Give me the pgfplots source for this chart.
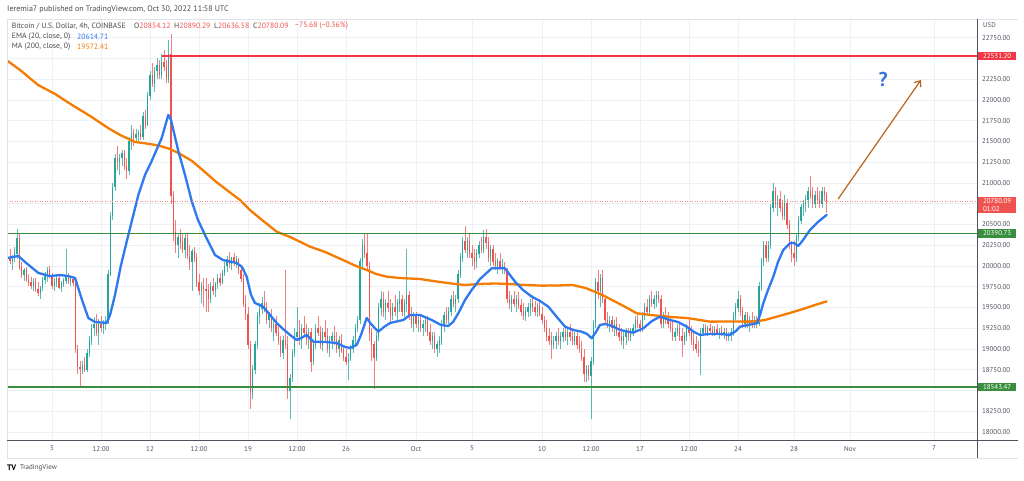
\documentclass[border=0pt]{standalone}
\usepackage{fontspec}
\setmainfont{PT Sans}
\usepackage{pgfplots}
\usepackage{pgfplotstable}
\pgfplotsset{compat=1.18}
\usetikzlibrary{arrows.meta}
\definecolor{upc}{HTML}{26A69A}
\definecolor{dnc}{HTML}{EF5350}
\definecolor{emac}{HTML}{2E78F0}
\definecolor{mac}{HTML}{F57C00}
\definecolor{redl}{HTML}{F23645}
\definecolor{greenl}{HTML}{388E3C}
\definecolor{gridc}{HTML}{EDF0F5}
\definecolor{tickc}{HTML}{50535E}
\definecolor{framec}{HTML}{E0E3EB}
\definecolor{darkl}{HTML}{50535E}
\definecolor{arrowc}{HTML}{B8651B}
\definecolor{qc}{HTML}{3A78D2}
\definecolor{hdr}{HTML}{4A4A4A}
\newcommand{\fsz}[2]{\fontsize{#1}{#2}\selectfont}

\pgfplotstableread{
i o h l c
0 20000 20180 19900 20100
1 20100 20200 20020 20060
2 20060 20130 19950 20120
3 20120 20230 20050 20150
4 20150 20440 20080 20330
5 20330 20380 19950 19980
6 19980 20050 19850 19900
7 19900 19980 19820 19950
8 19950 19990 19800 19830
9 19830 19900 19760 19800
10 19800 19870 19720 19760
11 19760 19850 19700 19820
12 19820 19860 19690 19720
13 19720 19800 19640 19680
14 19680 19760 19600 19740
15 19740 19870 19700 19840
16 19840 19930 19780 19880
17 19880 19990 19800 19950
18 19950 20000 19850 19880
19 19880 19920 19720 19760
20 19760 19850 19700 19800
21 19800 19880 19740 19850
22 19850 19900 19720 19740
23 19740 19820 19690 19790
24 19790 19860 19740 19820
25 19820 20200 19780 19860
26 19860 19920 19780 19820
27 19820 19880 19760 19840
28 19840 19870 19760 19800
29 19800 19830 18950 19000
30 19000 19050 18700 18780
31 18780 18850 18540 18760
32 18760 18850 18700 18800
33 18800 18900 18720 18750
34 18750 19000 18720 18950
35 18950 19150 18900 19100
36 19100 19300 19050 19250
37 19250 19380 19150 19300
38 19300 19420 19150 19200
39 19200 19360 19050 19300
40 19300 19400 19200 19250
41 19250 19350 19180 19320
42 19320 19400 19230 19330
43 19330 19950 19300 19900
44 19900 20650 19880 20600
45 20600 21000 20550 20950
46 20950 21350 20900 21300
47 21300 21450 21150 21250
48 21250 21350 21100 21300
49 21300 21400 21200 21360
50 21360 21400 21150 21200
51 21200 21300 21050 21150
52 21150 21550 21100 21500
53 21500 21700 21400 21600
54 21600 21650 21450 21550
55 21550 21650 21500 21580
56 21580 21640 21500 21600
57 21600 21700 21520 21560
58 21560 21850 21520 21800
59 21800 21880 21650 21700
60 21700 22100 21680 22050
61 22050 22350 22000 22300
62 22300 22450 22150 22200
63 22200 22400 22100 22350
64 22350 22500 22250 22420
65 22420 22480 22250 22300
66 22300 22550 22250 22450
67 22450 22600 22350 22400
68 22400 22480 22200 22250
69 22250 22720 22200 22550
70 22550 22800 20750 20850
71 20850 20900 20300 20400
72 20400 20550 20150 20250
73 20250 20400 20100 20350
74 20350 20450 20200 20280
75 20280 20400 20150 20200
76 20200 20380 20100 20330
77 20330 20400 20080 20120
78 20120 20250 19950 20050
79 20050 20200 19700 20180
80 20180 20230 20050 20100
81 20100 20150 19750 19800
82 19800 19900 19650 19700
83 19700 19800 19550 19750
84 19750 19850 19500 19720
85 19720 19850 19450 19700
86 19700 19780 19450 19600
87 19600 19800 19550 19750
88 19750 19850 19650 19700
89 19700 19800 19620 19780
90 19780 19900 19720 19850
91 19850 19920 19760 19800
92 19800 19950 19780 19920
93 19920 20050 19880 20000
94 20000 20120 19930 20080
95 20080 20170 19980 20030
96 20030 20110 19950 20100
97 20100 20160 20000 20050
98 20050 20120 19970 20080
99 20080 20100 19900 19950
100 19950 20000 19800 19850
101 19850 19900 19500 19550
102 19550 19650 19350 19420
103 19420 19500 19000 19050
104 19050 19100 18270 18480
105 18480 18800 18400 18750
106 18750 19100 18700 19050
107 19050 19450 19000 19400
108 19400 19550 19300 19480
109 19480 19620 19420 19550
110 19550 19700 19450 19500
111 19500 19560 19300 19350
112 19350 19450 19250 19400
113 19400 19480 19200 19250
114 19250 19350 19100 19300
115 19300 19400 19150 19200
116 19200 19300 19050 19100
117 19100 19150 18900 18950
118 18950 19150 18880 19100
119 19100 19950 19000 19050
120 19050 19150 18400 18500
121 18500 18700 18160 18650
122 18650 19000 18600 18950
123 18950 19250 18900 19150
124 19150 19500 19100 19200
125 19200 19350 19050 19100
126 19100 19300 19000 19250
127 19250 19400 19150 19200
128 19200 19300 19050 19120
129 19120 19250 19000 19200
130 19200 19250 18720 18850
131 18850 19100 18800 19050
132 19050 19300 19000 19250
133 19250 19400 19150 19200
134 19200 19280 19000 19050
135 19050 19250 18980 19200
136 19200 19350 19100 19150
137 19150 19250 18950 19000
138 19000 19150 18900 19100
139 19100 19200 19000 19150
140 19150 19280 19050 19100
141 19100 19200 18950 19000
142 19000 19150 18900 19100
143 19100 19180 18950 18980
144 18980 19050 18850 18900
145 18900 19000 18800 18850
146 18850 18950 18620 18880
147 18880 19050 18850 19000
148 19000 19150 18950 19100
149 19100 19300 19050 19250
150 19250 19400 19200 19350
151 19350 20100 19300 20050
152 20050 20330 19950 20250
153 20250 20380 20100 20150
154 20150 20380 19950 20000
155 20000 20050 19100 19200
156 19200 19250 18850 19050
157 19050 19100 18520 18900
158 18900 19200 18850 19150
159 19150 19550 19100 19500
160 19500 19700 19400 19600
161 19600 19680 19380 19450
162 19450 19600 19350 19550
163 19550 19700 19450 19500
164 19500 19600 19300 19400
165 19400 19550 19350 19500
166 19500 19650 19400 19450
167 19450 19600 19350 19550
168 19550 19700 19450 19600
169 19600 19650 19400 19450
170 19450 19600 19380 19550
171 19550 20200 19450 19650
172 19650 19700 19350 19400
173 19400 19500 19250 19300
174 19300 19450 19200 19400
175 19400 19450 19250 19300
176 19300 19400 19200 19350
177 19350 19420 19200 19250
178 19250 19350 19150 19300
179 19300 19400 19200 19350
180 19350 19400 19150 19200
181 19200 19300 19050 19100
182 19100 19200 19000 19150
183 19150 19200 18950 19000
184 19000 19100 18900 19050
185 19050 19150 18950 19100
186 19100 19350 19050 19300
187 19300 19450 19200 19400
188 19400 19500 19300 19350
189 19350 19500 19300 19450
190 19450 19650 19400 19600
191 19600 19700 19500 19550
192 19550 19650 19450 19600
193 19600 19950 19550 19900
194 19900 20150 19850 20100
195 20100 20350 20050 20300
196 20300 20480 20150 20200
197 20200 20350 20100 20300
198 20300 20400 20100 20150
199 20150 20250 20000 20100
200 20100 20200 19950 20050
201 20050 20200 19980 20150
202 20150 20300 20100 20250
203 20250 20350 20150 20200
204 20200 20430 20150 20350
205 20350 20450 20200 20280
206 20280 20350 20050 20100
207 20100 20250 20000 20200
208 20200 20250 20000 20050
209 20050 20150 19950 20000
210 20000 20100 19900 20050
211 20050 20150 19950 19980
212 19980 20080 19900 20000
213 20000 20050 19900 19950
214 19950 19980 19550 19600
215 19600 19700 19480 19550
216 19550 19650 19450 19600
217 19600 19700 19500 19550
218 19550 19650 19450 19600
219 19600 19680 19480 19520
220 19520 19600 19400 19450
221 19450 19550 19350 19400
222 19400 19500 19330 19450
223 19450 19550 19380 19500
224 19500 19600 19400 19550
225 19550 19650 19450 19500
226 19500 19580 19400 19450
227 19450 19550 19380 19520
228 19520 19600 19400 19420
229 19420 19500 19300 19350
230 19350 19400 19200 19250
231 19250 19350 19100 19150
232 19150 19250 19050 19100
233 19100 19200 18880 19050
234 19050 19150 19000 19100
235 19100 19200 19000 19150
236 19150 19250 19050 19100
237 19100 19200 19000 19150
238 19150 19250 19080 19200
239 19200 19280 19100 19150
240 19150 19250 19050 19200
241 19200 19300 19100 19150
242 19150 19250 19050 19100
243 19100 19200 19050 19150
244 19150 19220 19000 19050
245 19050 19150 18950 19000
246 19000 19100 18850 18900
247 18900 19000 18600 18700
248 18700 18800 18600 18750
249 18750 18800 18620 18680
250 18680 18900 18150 18850
251 18850 19350 18800 19300
252 19300 19850 19250 19800
253 19800 19950 19600 19700
254 19700 19900 19500 19850
255 19850 19950 19550 19600
256 19600 19650 19300 19350
257 19350 19450 19250 19300
258 19300 19400 19200 19350
259 19350 19400 19200 19250
260 19250 19350 19150 19300
261 19300 19380 19150 19200
262 19200 19300 19100 19150
263 19150 19250 19050 19100
264 19100 19200 19000 19150
265 19150 19250 19050 19200
266 19200 19250 19100 19150
267 19150 19250 19100 19200
268 19200 19300 19150 19250
269 19250 19400 19200 19350
270 19350 19450 19250 19300
271 19300 19350 19200 19250
272 19250 19450 19200 19400
273 19400 19550 19350 19500
274 19500 19600 19400 19450
275 19450 19650 19400 19600
276 19600 19700 19500 19550
277 19550 19650 19480 19600
278 19600 19700 19500 19650
279 19650 19700 19550 19600
280 19600 19650 19250 19300
281 19300 19450 19250 19400
282 19400 19500 19300 19350
283 19350 19450 19250 19300
284 19300 19400 19200 19250
285 19250 19350 19100 19150
286 19150 19250 19100 19200
287 19200 19300 19150 19250
288 19250 19300 19100 19150
289 19150 19250 18900 19100
290 19100 19200 19050 19150
291 19150 19300 19100 19250
292 19250 19350 19150 19200
293 19200 19280 19050 19100
294 19100 19200 18980 19050
295 19050 19150 18950 19000
296 19000 19100 18900 18950
297 18950 19250 18680 19200
298 19200 19300 19150 19250
299 19250 19300 19180 19200
300 19200 19280 19150 19250
301 19250 19300 19180 19220
302 19220 19280 19150 19200
303 19200 19270 19150 19230
304 19230 19300 19170 19190
305 19190 19250 19120 19210
306 19210 19280 19150 19180
307 19180 19250 19120 19200
308 19200 19250 19100 19150
309 19150 19200 19100 19170
310 19170 19250 19100 19200
311 19200 19450 19150 19400
312 19400 19550 19350 19500
313 19500 19700 19450 19600
314 19600 19650 19400 19450
315 19450 19500 19250 19300
316 19300 19450 19250 19400
317 19400 19450 19250 19300
318 19300 19400 19200 19350
319 19350 19450 19250 19300
320 19300 19400 19250 19350
321 19350 19400 19250 19300
322 19300 19800 19280 19750
323 19750 20100 19700 20050
324 20050 20300 20000 20250
325 20250 20300 20050 20100
326 20100 20300 20050 20250
327 20250 20750 20200 20700
328 20700 21000 20650 20900
329 20900 20950 20700 20750
330 20750 20850 20600 20800
331 20800 20900 20650 20700
332 20700 20800 20550 20600
333 20600 20850 20550 20750
334 20750 20800 20450 20500
335 20500 20550 20200 20250
336 20250 20300 20050 20150
337 20150 20300 20000 20100
338 20100 20400 20050 20350
339 20350 20600 20300 20550
340 20550 20750 20500 20700
341 20700 20800 20600 20750
342 20750 20850 20650 20800
343 20800 20950 20700 20900
344 20900 21080 20800 20850
345 20850 20950 20700 20750
346 20750 20900 20700 20850
347 20850 20950 20750 20800
348 20800 20900 20700 20750
349 20750 20950 20700 20900
350 20900 20950 20780 20854.12
351 20854.12 20890.29 20636.58 20780.09
}\candles

\pgfplotstableread{
i v
0 20095
4.56 20120
7.43 20047
13.13 19915
18.14 19877
22.43 19890
25.98 19877
28.86 19855
31.86 19590
34.56 19372
37.43 19324
42.44 19312
43.86 19408
46.0 19650
48.57 20010
51.7 20372
55.99 20854
58.86 21096
61.73 21264
66.01 21541
68.84 21819
70 21758
73.13 21385
76.0 21096
78.87 20782
81.57 20553
84.57 20372
88.86 20131
92.28 20070
98.16 20035
100.43 19987
102.44 19870
104.29 19650
106.0 19553
109.43 19509
112.43 19409
115.3 19312
118.0 19240
121.0 19168
123.87 19107
125.71 19131
128.16 19168
130.98 19087
136.0 19083
141.01 19071
144.57 19023
146.71 19011
149.58 19047
151.43 19168
153.87 19372
155.71 19300
158.84 19207
161.28 19264
163.86 19312
169.56 19348
172.43 19409
176.71 19409
181.73 19348
185.71 19288
188.84 19276
190.86 19324
193.13 19429
196.0 19589
198.87 19710
202.43 19842
207.44 19971
213.14 19971
215.28 19890
217.43 19810
220.86 19710
224.59 19629
228.14 19577
231.7 19509
235.0 19396
238.86 19268
242.29 19228
246.01 19207
248.29 19180
250.3 19128
252.14 19204
253.86 19288
256.0 19300
259.0 19276
262.43 19228
268.0 19195
272.42 19248
276.14 19336
279.57 19388
283.86 19348
287.29 19324
291.01 19268
294.14 19204
296.71 19168
301.0 19180
305.28 19180
309.57 19168
312.14 19216
313.86 19268
317.29 19288
321.01 19308
322.43 19409
323.84 19550
325.86 19710
328.13 19870
330.14 20047
332.41 20192
335.28 20273
337.0 20276
338.84 20240
340.86 20312
343.86 20433
347.28 20529
351 20614.71
}\ema

\pgfplotstableread{
i v
0 22469
5.28 22361
13.0 22180
20.28 22072
27.57 21939
35.28 21807
43.0 21662
48.14 21578
54.57 21493
61.0 21469
65.28 21445
69.57 21409
73.86 21349
79.0 21264
84.57 21131
88.86 21023
94.43 20903
99.57 20794
103.86 20672
109.0 20553
115.3 20412
121.0 20349
129.57 20232
136.0 20168
143.71 20071
149.28 19999
153.87 19951
157.86 19903
162.44 19870
168.14 19854
176.71 19842
185.28 19806
191.71 19782
196.0 19770
202.43 19782
208.86 19788
214.43 19782
221.71 19770
229.0 19762
236.0 19764
242.0 19770
247.57 19734
251.86 19686
254.86 19650
259.0 19589
264.57 19508
269.58 19429
275.28 19409
283.86 19385
291.01 19372
296.71 19348
301.0 19328
309.57 19330
319.43 19328
324.57 19348
329.58 19388
335.28 19433
340.86 19481
346.0 19529
351 19572.41
}\ma

\pgfplotsset{
  wick/.style={draw=none, mark=none, forget plot,
    restrict y to domain=10000:30000,
    error bars/.cd, y dir=both, y explicit, error mark=none,
    error bar style={line width=0.5pt, draw=#1, draw opacity=0.75, solid}},
  body/.style={draw=none, mark=none, forget plot,
    restrict y to domain=10000:30000,
    error bars/.cd, y dir=both, y explicit, error mark=none,
    error bar style={line width=1.5pt, draw=#1, solid}},
}
\tikzset{
  pbox/.style={anchor=west, xshift=0.8pt, text=white, font=\fsz{7}{7.6}, text width=28pt,
    inner xsep=5pt, inner ysep=1.6pt, align=left},
}

\begin{document}
\begin{tikzpicture}
\useasboundingbox (0pt,0pt) rectangle (1024pt,480pt);
\fill[white] (0pt,0pt) rectangle (1024pt,480pt);
\begin{axis}[
  at={(7pt,40pt)}, anchor=south west,
  scale only axis, width=970pt, height=422pt,
  xmin=-0.29, xmax=415.43, ymin=17902, ymax=22987,
  axis line style={draw=none},
  tick style={draw=none},
  scaled y ticks=false, scaled x ticks=false,
  xtick={19,40,61,82,103,124,145,175,199,229,250,271,292,313,337,361,397},
  xticklabels={5,12:00,12,12:00,19,12:00,26,Oct,5,10,12:00,17,12:00,24,28,Nov,7},
  ytick={18000,18250,...,22750},
  yticklabels={18000.00,18250.00,{},18750.00,19000.00,19250.00,19500.00,19750.00,20000.00,20250.00,20500.00,{},21000.00,21250.00,21500.00,21750.00,22000.00,22250.00,{},22750.00},
  yticklabel pos=right,
  grid=major, major grid style={gridc, line width=0.6pt},
  xticklabel style={font=\fsz{7}{8}, text=tickc, yshift=-2.5pt},
  yticklabel style={font=\fsz{7}{8}, text=tickc, anchor=west, xshift=1.5pt},
  clip mode=individual,
]
% candles: wicks
\addplot[wick=upc] table[x=i, y expr={(\thisrow{c}>=\thisrow{o}) ? (\thisrow{h}+\thisrow{l})/2 : -1}, y error expr={(\thisrow{h}-\thisrow{l})/2}] {\candles};
\addplot[wick=dnc] table[x=i, y expr={(\thisrow{c}<\thisrow{o}) ? (\thisrow{h}+\thisrow{l})/2 : -1}, y error expr={(\thisrow{h}-\thisrow{l})/2}] {\candles};
% candles: bodies
\addplot[body=upc] table[x=i, y expr={(\thisrow{c}>=\thisrow{o}) ? (\thisrow{o}+\thisrow{c})/2 : -1}, y error expr={abs(\thisrow{c}-\thisrow{o})/2+4}] {\candles};
\addplot[body=dnc] table[x=i, y expr={(\thisrow{c}<\thisrow{o}) ? (\thisrow{o}+\thisrow{c})/2 : -1}, y error expr={abs(\thisrow{c}-\thisrow{o})/2+4}] {\candles};
% moving averages
\addplot[mac, line width=2.3pt, line join=round, line cap=round, mark=none] table[x=i, y=v] {\ma};
\addplot[emac, line width=2.3pt, line join=round, line cap=round, mark=none] table[x=i, y=v] {\ema};
% horizontal levels
\addplot[dnc!70, dotted, line width=0.5pt, mark=none] coordinates {(-0.29,20780.09) (415.43,20780.09)};
\addplot[redl, line width=1.7pt, mark=none] coordinates {(66.2,22531.2) (415.43,22531.2)};
\addplot[greenl, line width=1.7pt, mark=none] coordinates {(-0.29,20390.73) (415.43,20390.73)};
\addplot[greenl, line width=1.7pt, mark=none] coordinates {(-0.29,18543.47) (415.43,18543.47)};
% arrow and question mark
\draw[arrowc, line width=1.2pt, -{Straight Barb[length=5pt,width=8pt]}] (axis cs:355.9,20806) -- (axis cs:391.4,22240);
\node[text=qc, font=\bfseries\fsz{20}{20}] at (axis cs:375.2,22252) {?};
% price boxes
\node[pbox, fill=redl] at (axis cs:415.43,22531.2) {22531.20};
\node[pbox, fill=greenl] at (axis cs:415.43,20390.73) {20390.73};
\node[pbox, fill=greenl] at (axis cs:415.43,18543.47) {18543.47};
\node[pbox, fill=dnc, anchor=north west, yshift=4pt, inner ysep=1.5pt, font=\fsz{7}{7.4}] at (axis cs:415.43,20780.09) {20780.09\\01:02};
\end{axis}
% frame
\draw[framec, line width=0.6pt] (7pt,461pt) -- (1018pt,461pt);
\draw[framec, line width=0.6pt] (7pt,461pt) -- (7pt,22pt) -- (1018pt,22pt);
\draw[darkl, line width=0.8pt] (977pt,461pt) -- (977pt,22pt);
\draw[darkl, line width=0.8pt] (7pt,39.6pt) -- (1018pt,39.6pt);
% header
\node[anchor=west, inner sep=0pt, text=hdr, font=\fsz{8}{9}] at (7pt,470pt) {Ieremia7 published on TradingView.com, Oct 30, 2022 11:58 UTC};
\node[anchor=west, inner sep=0pt, text=hdr, font=\fsz{7.7}{9}] at (11.7pt,454pt) {Bitcoin / U.S. Dollar, 4h, COINBASE};
\node[anchor=west, inner sep=0pt, text=hdr, font=\fsz{7.7}{9}] at (134pt,454pt) {O\textcolor{dnc}{20854.12}};
\node[anchor=west, inner sep=0pt, text=hdr, font=\fsz{7.7}{9}] at (174pt,454pt) {H\textcolor{dnc}{20890.29}};
\node[anchor=west, inner sep=0pt, text=hdr, font=\fsz{7.7}{9}] at (214pt,454pt) {L\textcolor{dnc}{20636.58}};
\node[anchor=west, inner sep=0pt, text=hdr, font=\fsz{7.7}{9}] at (253pt,454pt) {C\textcolor{dnc}{20780.09}};
\node[anchor=west, inner sep=0pt, text=dnc, font=\fsz{7.7}{9}] at (295pt,454pt) {−75.68 (−0.36\%)};
\node[anchor=west, inner sep=0pt, text=hdr, font=\fsz{7.7}{9}] at (11.7pt,443.5pt) {EMA (20, close, 0)};
\node[anchor=west, inner sep=0pt, text=emac, font=\fsz{7.7}{9}] at (77pt,443.5pt) {20614.71};
\node[anchor=west, inner sep=0pt, text=hdr, font=\fsz{7.7}{9}] at (11.7pt,433pt) {MA (200, close, 0)};
\node[anchor=west, inner sep=0pt, text=mac, font=\fsz{7.7}{9}] at (77pt,433pt) {19572.41};
\node[anchor=west, inner sep=0pt, text=tickc, font=\fsz{6.8}{8}] at (983pt,455pt) {USD};
% logo
\node[anchor=west, inner sep=0pt, text=black, font=\bfseries\fsz{8}{8}] at (7pt,12pt) {TV};
\node[anchor=west, inner sep=0pt, text=hdr, font=\fsz{7}{8}] at (20pt,12pt) {TradingView};
\end{tikzpicture}
\end{document}
